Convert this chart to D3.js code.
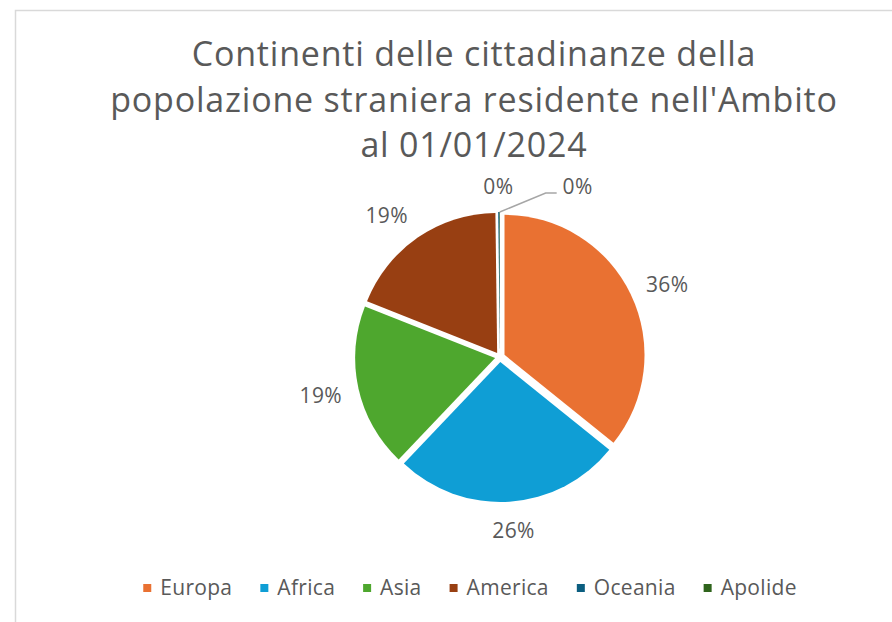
<!DOCTYPE html>
<html>
<head>
<meta charset="utf-8">
<script src="https://cdn.jsdelivr.net/npm/d3@7"></script>
<style>
  body { margin: 0; background: #fff; }
  svg { display: block; font-family: "Open Sans", "Liberation Sans", sans-serif; }
</style>
</head>
<body>
<svg id="chart" width="892" height="622"></svg>
<script>
// data (percent of foreign residents)
const continents = ['Europa', 'Africa', 'Asia', 'America', 'Oceania', 'Apolide'];
const shares = [35.8, 26.3, 18.9, 18.8, 0.15, 0.05];
const colors = ['#E97132', '#0F9ED5', '#4EA72E', '#983F12', '#0B5E80', '#2F641C'];
const titleLines = ['Continenti delle cittadinanze della',
	"popolazione straniera residente nell'Ambito",
	'al 01/01/2024'];

const data = continents.map((c, i) => ({ name: c, value: shares[i] }));

let svg = d3.select('#chart');

// chart area border (runs off the right / bottom edge)
svg.append('rect')
	.attr('x', 15.5)
	.attr('y', 10.5)
	.attr('width', 900)
	.attr('height', 640)
	.attr('fill', '#fff')
	.attr('stroke', '#d9d9d9')
	.attr('stroke-width', 1.5);

// title
svg.append('g')
	.selectAll('text')
	.data(titleLines)
	.enter()
	.append('text')
		.attr('x', 474)
		.attr('y', (d, i) => 66 + i * 45.5)
		.attr('text-anchor', 'middle')
		.attr('font-size', 34)
		.attr('letter-spacing', 0.8)
		.attr('fill', '#595959')
		.text(d => d);

// pie
const cx = 500, cy = 357, radius = 140, explode = 5;

let pie = d3.pie()
	.sort(null)
	.value(d => d.value);

let arc = d3.arc()
	.innerRadius(0)
	.outerRadius(radius);

let arcs = pie(data);
const mid = d => (d.startAngle + d.endAngle) / 2;

let pieGroup = svg.append('g')
	.attr('transform', `translate(${cx}, ${cy})`);

pieGroup.selectAll('path')
	.data(arcs)
	.enter()
	.append('path')
		.attr('d', arc)
		.attr('fill', (d, i) => colors[i])
		.attr('transform', d => `translate(${Math.sin(mid(d)) * explode}, ${-Math.cos(mid(d)) * explode})`);

// data labels, outside end
const labelR = 161, hw = 22, hh = 12;
const clamp = v => Math.max(-1, Math.min(1, v));

let labels = arcs.map((d, i) => {
	let a = mid(d);
	let sx = Math.sin(a), sy = -Math.cos(a);
	return {
		text: Math.round(d.data.value) + '%',
		x: sx * labelR + hw * clamp(sx * 2),
		y: sy * labelR + hh * clamp(sy * 1.2) + (sy < 0 ? 3 : 1),
		angle: a
	};
});

// last label collides with the previous one: moved aside with a leader line
let last = labels[labels.length - 1];
last.x += 78;
let tip = { x: Math.sin(last.angle) * (radius + explode), y: -Math.cos(last.angle) * (radius + explode) };
pieGroup.append('polyline')
	.attr('points', [[tip.x, tip.y], [last.x - 32, last.y + 6], [last.x - 21, last.y + 6]].join(' '))
	.attr('fill', 'none')
	.attr('stroke', '#a6a6a6')
	.attr('stroke-width', 1.5);

pieGroup.selectAll('text.lbl')
	.data(labels)
	.enter()
	.append('text')
		.attr('class', 'lbl')
		.attr('x', d => d.x)
		.attr('y', d => d.y)
		.attr('dy', '0.35em')
		.attr('text-anchor', 'middle')
		.attr('font-size', 21)
		.attr('letter-spacing', 0.4)
		.attr('fill', '#595959')
		.text(d => d.text);

// legend
let legend = svg.append('g')
	.attr('transform', 'translate(0, 588)');

let items = legend.selectAll('g')
	.data(continents)
	.enter()
	.append('g');

items.append('rect')
	.attr('y', -4)
	.attr('width', 8)
	.attr('height', 8)
	.attr('fill', (d, i) => colors[i]);

items.append('text')
	.attr('x', 17)
	.attr('dy', '0.35em')
	.attr('font-size', 21)
	.attr('letter-spacing', 0.3)
	.attr('fill', '#595959')
	.text(d => d);

let offsets = [], pos = 0;
items.each(function () {
	offsets.push(pos);
	pos += 17 + d3.select(this).select('text').node().getComputedTextLength() + 28;
});
let total = pos - 28;
let startX = 470 - total / 2;
items.attr('transform', (d, i) => `translate(${startX + offsets[i]}, 0)`);
</script>
</body>
</html>
